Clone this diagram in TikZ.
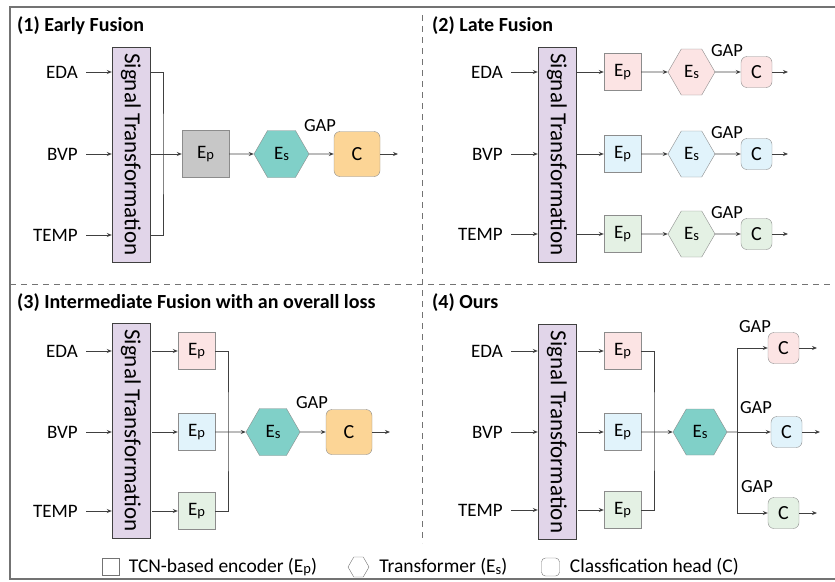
\documentclass[tikz,border=0pt]{standalone}
\usepackage{fontspec}
\setmainfont{Carlito}
\usepackage{graphicx}
\usetikzlibrary{arrows.meta, positioning, shapes.symbols, calc}

\definecolor{stpurple}{RGB}{225,213,233}
\definecolor{encgray}{RGB}{199,199,199}
\definecolor{trfteal}{RGB}{128,208,200}
\definecolor{headorange}{RGB}{252,213,150}
\definecolor{rowpink}{RGB}{252,228,228}
\definecolor{rowblue}{RGB}{225,243,251}
\definecolor{rowgreen}{RGB}{228,241,228}

\newcommand{\subE}[1]{E\raisebox{-1.5pt}{\fontsize{14.5}{14}\selectfont #1}}

\begin{document}
\begin{tikzpicture}[x=1pt, y=-1pt,
    title/.style={font=\bfseries\fontsize{20}{22}\selectfont, anchor=west, inner sep=0pt},
    inlbl/.style={font=\fontsize{19}{22}\selectfont, anchor=east, inner sep=0pt},
    gaplbl/.style={font=\fontsize{18.5}{22}\selectfont, inner sep=0pt},
    lgtext/.style={font=\fontsize{19.5}{22}\selectfont, inner sep=0pt, anchor=west},
    stbox/.style={draw=black!75, fill=stpurple, minimum width=38pt, minimum height=215pt,
        inner sep=0pt, font=\fontsize{23}{26}\selectfont},
    encbox/.style={draw=black!45, minimum size=37pt, inner sep=0pt, font=\fontsize{19}{22}\selectfont},
    hexbox/.style={signal, signal to=east and west, signal pointer angle=120, draw=black!45,
        minimum width=47pt, minimum height=46pt, inner sep=0pt, font=\fontsize{19}{22}\selectfont},
    headbox/.style={draw=black!45, rounded corners=6pt, minimum size=31pt, inner sep=0pt,
        font=\fontsize{20}{22}\selectfont},
    conn/.style={draw=black!75, line width=0.8pt},
    arr/.style={conn, -{Stealth[length=5pt, width=4pt]}},
    inarr/.style={arr, shorten <=8pt},
    frame/.style={draw=black!55, line width=1.2pt},
    sep/.style={draw=black!55, line width=0.9pt, dash pattern=on 6pt off 5pt}]

    \useasboundingbox (0,0) rectangle (835,581);

    % Frame and separators
    \draw[frame] (835,7) -- (10,7) -- (10,579) -- (835,579);
    \draw[sep] (10,284) -- (835,284);
    \draw[sep] (422,15) -- (422,543);

    % (1) Early Fusion
    \node[title] (t1) at (17,26) {(1) Early Fusion};
    \node[inlbl] (eda1) at (78,72) {EDA};
    \node[inlbl] (bvp1) at (78,154) {BVP};
    \node[inlbl] (temp1) at (78,235) {TEMP};
    \node[stbox] (st1) at (131,154.5) {\rotatebox{-90}{Signal Transformation}};
    \draw[inarr] (eda1) -- (eda1 -| st1.west);
    \draw[inarr] (bvp1) -- (bvp1 -| st1.west);
    \draw[inarr] (temp1) -- (temp1 -| st1.west);
    % channels stacked before the encoder
    \coordinate (j1) at (163,154);
    \draw[conn] (st1.east |- eda1) -| (j1) |- (st1.east |- temp1);
    \node[encbox, fill=encgray, minimum size=47pt] (ep1) at (205.5,154) {\subE{p}};
    \draw[arr] (st1.east |- ep1) -- (ep1);
    \node[hexbox, fill=trfteal, minimum width=55pt, minimum height=47pt] (es1) at (281.5,154) {\subE{s}};
    \draw[arr] (ep1) -- (es1);
    \node[headbox, fill=headorange, minimum width=46pt, minimum height=45pt] (c1) at (357,154) {C};
    \draw[arr] (es1) -- (c1);
    \node[gaplbl] (gap1) at (320,126) {GAP};
    \coordinate (o1) at (398,154);
    \draw[arr] (c1) -- (o1);

    % (2) Late Fusion
    \node[title] (t2) at (432,26) {(2) Late Fusion};
    \node[inlbl] (eda2) at (503,72) {EDA};
    \node[inlbl] (bvp2) at (503,154) {BVP};
    \node[inlbl] (temp2) at (503,234) {TEMP};
    \node[stbox] (st2) at (557,154.5) {\rotatebox{-90}{Signal Transformation}};
    \draw[inarr] (eda2) -- (eda2 -| st2.west);
    \draw[inarr] (bvp2) -- (bvp2 -| st2.west);
    \draw[inarr] (temp2) -- (temp2 -| st2.west);
    % EDA branch
    \node[encbox, fill=rowpink] (ep2a) at (622.5,72) {\subE{p}};
    \node[hexbox, fill=rowpink] (es2a) at (691.5,72) {\subE{s}};
    \node[headbox, fill=rowpink] (c2a) at (756.5,72) {C};
    \node[gaplbl] (gap2a) at (727,51) {GAP};
    \coordinate (o2a) at (788,72);
    \draw[arr] (st2.east |- ep2a) -- (ep2a);
    \draw[arr] (ep2a) -- (es2a);
    \draw[arr] (es2a) -- (c2a);
    \draw[arr] (c2a) -- (o2a);
    % BVP branch
    \node[encbox, fill=rowblue] (ep2b) at (622.5,154) {\subE{p}};
    \node[hexbox, fill=rowblue] (es2b) at (691.5,154) {\subE{s}};
    \node[headbox, fill=rowblue] (c2b) at (756.5,154) {C};
    \node[gaplbl] (gap2b) at (727,133) {GAP};
    \coordinate (o2b) at (788,154);
    \draw[arr] (st2.east |- ep2b) -- (ep2b);
    \draw[arr] (ep2b) -- (es2b);
    \draw[arr] (es2b) -- (c2b);
    \draw[arr] (c2b) -- (o2b);
    % TEMP branch
    \node[encbox, fill=rowgreen] (ep2c) at (622.5,234) {\subE{p}};
    \node[hexbox, fill=rowgreen] (es2c) at (691.5,234) {\subE{s}};
    \node[headbox, fill=rowgreen] (c2c) at (756.5,234) {C};
    \node[gaplbl] (gap2c) at (727,213) {GAP};
    \coordinate (o2c) at (788,234);
    \draw[arr] (st2.east |- ep2c) -- (ep2c);
    \draw[arr] (ep2c) -- (es2c);
    \draw[arr] (es2c) -- (c2c);
    \draw[arr] (c2c) -- (o2c);

    % (3) Intermediate Fusion
    \node[title] (t3) at (17,303) {(3) Intermediate Fusion with an overall loss};
    \node[inlbl] (eda3) at (78,351) {EDA};
    \node[inlbl] (bvp3) at (78,432) {BVP};
    \node[inlbl] (temp3) at (78,511) {TEMP};
    \node[stbox] (st3) at (131,430.5) {\rotatebox{-90}{Signal Transformation}};
    \draw[inarr] (eda3) -- (eda3 -| st3.west);
    \draw[inarr] (bvp3) -- (bvp3 -| st3.west);
    \draw[inarr] (temp3) -- (temp3 -| st3.west);
    \node[encbox, fill=rowpink] (ep3a) at (196.5,351) {\subE{p}};
    \node[encbox, fill=rowblue] (ep3b) at (196.5,432) {\subE{p}};
    \node[encbox, fill=rowgreen] (ep3c) at (196.5,511) {\subE{p}};
    \draw[arr, shorten <=2pt] (st3.east |- ep3a) -- (ep3a);
    \draw[arr, shorten <=2pt] (st3.east |- ep3b) -- (ep3b);
    \draw[arr, shorten <=2pt] (st3.east |- ep3c) -- (ep3c);
    % features merged before the transformer
    \coordinate (j3) at (228,432);
    \draw[conn] (ep3a) -| (j3) |- (ep3c);
    \node[hexbox, fill=trfteal, minimum width=54pt, minimum height=47pt] (es3) at (273,432) {\subE{s}};
    \draw[arr] (ep3b) -- (es3);
    \node[headbox, fill=headorange, minimum width=46pt, minimum height=45pt] (c3) at (349,432) {C};
    \draw[arr] (es3) -- (c3);
    \node[gaplbl] (gap3) at (312,403) {GAP};
    \coordinate (o3) at (390,432);
    \draw[arr] (c3) -- (o3);

    % (4) Ours
    \node[title] (t4) at (432,303) {(4) Ours};
    \node[inlbl] (eda4) at (503,351) {EDA};
    \node[inlbl] (bvp4) at (503,432) {BVP};
    \node[inlbl] (temp4) at (503,510) {TEMP};
    \node[stbox] (st4) at (557,432) {\rotatebox{-90}{Signal Transformation}};
    \draw[inarr] (eda4) -- (eda4 -| st4.west);
    \draw[inarr] (bvp4) -- (bvp4 -| st4.west);
    \draw[inarr] (temp4) -- (temp4 -| st4.west);
    \node[encbox, fill=rowpink] (ep4a) at (622.5,351) {\subE{p}};
    \node[encbox, fill=rowblue] (ep4b) at (622.5,432) {\subE{p}};
    \node[encbox, fill=rowgreen] (ep4c) at (622.5,510) {\subE{p}};
    \draw[arr, shorten <=2pt] (st4.east |- ep4a) -- (ep4a);
    \draw[arr, shorten <=2pt] (st4.east |- ep4b) -- (ep4b);
    \draw[arr, shorten <=2pt] (st4.east |- ep4c) -- (ep4c);
    \coordinate (j4) at (654,432);
    \draw[conn] (ep4a) -| (j4) |- (ep4c);
    \node[hexbox, fill=trfteal, minimum width=54pt, minimum height=46pt] (es4) at (700,432) {\subE{s}};
    \draw[arr] (ep4b) -- (es4);
    % one head per signal
    \coordinate (j4b) at (737,432);
    \draw[conn] (es4) -- (j4b);
    \node[headbox, fill=rowpink] (c4a) at (783.5,348) {C};
    \node[headbox, fill=rowblue] (c4b) at (786.5,432) {C};
    \node[headbox, fill=rowgreen] (c4c) at (783.5,513) {C};
    \draw[arr] (j4b) |- (c4a);
    \draw[arr] (j4b) -- (c4b);
    \draw[arr] (j4b) |- (c4c);
    \node[gaplbl] (gap4a) at (755,327) {GAP};
    \node[gaplbl] (gap4b) at (756,408) {GAP};
    \node[gaplbl] (gap4c) at (757,487) {GAP};
    \coordinate (o4a) at (817,348);
    \coordinate (o4b) at (820,432);
    \coordinate (o4c) at (817,513);
    \draw[arr] (c4a) -- (o4a);
    \draw[arr] (c4b) -- (o4b);
    \draw[arr] (c4c) -- (o4c);

    % Legend
    \node[draw=black!55, minimum size=17pt, inner sep=0pt] (lg1) at (111,567) {};
    \node[lgtext, right=9pt of lg1] (lgt1) {TCN-based encoder (\subE{p})};
    \node[hexbox, draw=black!55, minimum width=21pt, minimum height=20pt] (lg2) at (358.5,567) {};
    \node[lgtext, right=10pt of lg2] (lgt2) {Transformer (\subE{s})};
    \node[headbox, draw=black!55, minimum size=18pt, rounded corners=4pt] (lg3) at (550.5,567) {};
    \node[lgtext, right=10pt of lg3] (lgt3) {Classfication head (C)};
\end{tikzpicture}
\end{document}
